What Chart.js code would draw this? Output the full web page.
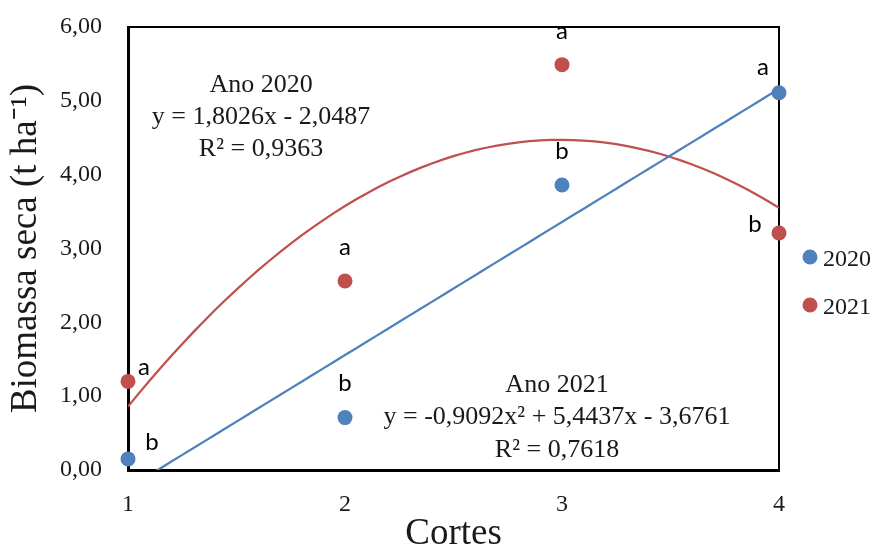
<!DOCTYPE html>
<html lang="pt">
<head>
<meta charset="UTF-8">
<title>Biomassa seca</title>
<script src="https://cdn.jsdelivr.net/npm/chart.js"></script>
<style>
  html, body { margin: 0; padding: 0; background: #fff; }
</style>
</head>
<body>
<canvas id="grafico" width="878" height="546"></canvas>
<script>
// dados
const cortes = [1, 2, 3, 4];
const biomassa2020 = [0.15, 0.71, 3.86, 5.11];
const biomassa2021 = [1.20, 2.56, 5.49, 3.21];
const letras2020 = ['b', 'b', 'b', 'a'];
const letras2021 = ['a', 'a', 'a', 'b'];
// coeficientes das linhas de tendencia (c0 + c1*x + c2*x^2), das equacoes do grafico
const tendencia2020 = [-2.0487, 1.8026];
const tendencia2021 = [-3.6761, 5.4437, -0.9092];
const equacao2020 = ['Ano 2020', 'y = 1,8026x - 2,0487', 'R² = 0,9363'];
const equacao2021 = ['Ano 2021', 'y = -0,9092x² + 5,4437x - 3,6761', 'R² = 0,7618'];
const ticksY = [0, 1, 2, 3, 4, 5, 6];

const AZUL = '#4F81BD';
const VERMELHO = '#C0504D';
const SERIF = "'Liberation Serif', 'Times New Roman', serif";
const SANS = "Lato, 'Liberation Sans', sans-serif";

function pontos(valores) {
    return cortes.map((c, i) => ({ x: c, y: valores[i] }));
}

// curva de tendencia avaliada a partir dos coeficientes
function curva(coef) {
    const out = [];
    for (let k = 0; k <= 60; k++) {
        const x = 1 + k * 0.05;
        let y = 0;
        coef.forEach((c, p) => { y += c * Math.pow(x, p); });
        out.push({ x: x, y: y });
    }
    return out;
}

// letras, equacoes, moldura e legenda
const anotacoes = {
    id: 'anotacoes',
    beforeDatasetsDraw(chart) {
        const { ctx, chartArea: a } = chart;
        ctx.save();
        ctx.strokeStyle = '#000';
        ctx.lineWidth = 2;
        ctx.beginPath();
        ctx.moveTo(a.left, a.top);
        ctx.lineTo(a.right, a.top);
        ctx.lineTo(a.right, a.bottom);
        ctx.stroke();
        ctx.restore();
    },
    afterDatasetsDraw(chart) {
        const { ctx, chartArea: a, scales: { x, y } } = chart;
        ctx.save();

        // letras de significancia
        const desloc2020 = [[24, -9], [0, -27], [0, -26], [-16, -18]];
        const desloc2021 = [[16, -6], [0, -26], [0, -26], [-24, -1]];
        ctx.font = '24px ' + SANS;
        ctx.fillStyle = '#000';
        ctx.textAlign = 'center';
        ctx.textBaseline = 'alphabetic';
        cortes.forEach((c, i) => {
            ctx.fillText(letras2020[i], x.getPixelForValue(c) + desloc2020[i][0], y.getPixelForValue(biomassa2020[i]) + desloc2020[i][1]);
            ctx.fillText(letras2021[i], x.getPixelForValue(c) + desloc2021[i][0], y.getPixelForValue(biomassa2021[i]) + desloc2021[i][1]);
        });

        // equacoes
        ctx.font = '26px ' + SERIF;
        ctx.fillStyle = '#1a1a1a';
        equacao2020.forEach((t, i) => {
            ctx.fillText(t, x.getPixelForValue(1.613), y.getPixelForValue(5.124) + i * 32);
        });
        equacao2021.forEach((t, i) => {
            ctx.fillText(t, x.getPixelForValue(2.977), y.getPixelForValue(1.06) + i * 32.5);
        });

        // legenda
        const itens = [['2020', AZUL], ['2021', VERMELHO]];
        ctx.font = '24px ' + SERIF;
        ctx.textAlign = 'left';
        itens.forEach((it, i) => {
            const cy = a.top + 230 + i * 48;
            ctx.fillStyle = it[1];
            ctx.beginPath();
            ctx.arc(a.right + 31, cy, 7.5, 0, Math.PI * 2);
            ctx.fill();
            ctx.fillStyle = '#1a1a1a';
            ctx.fillText(it[0], a.right + 44, cy + 8.5);
        });
        ctx.restore();
    }
};

const ctx = document.getElementById('grafico').getContext('2d');
new Chart(ctx, {
    type: 'scatter',
    data: {
        datasets: [
            {
                label: '2020',
                data: pontos(biomassa2020),
                backgroundColor: AZUL,
                borderColor: AZUL,
                pointRadius: 7.5,
                pointHoverRadius: 7.5,
                borderWidth: 0,
                clip: false
            },
            {
                label: '2021',
                data: pontos(biomassa2021),
                backgroundColor: VERMELHO,
                borderColor: VERMELHO,
                pointRadius: 7.5,
                pointHoverRadius: 7.5,
                borderWidth: 0,
                clip: false
            },
            {
                label: 'Tendência 2020',
                data: curva(tendencia2020),
                showLine: true,
                borderColor: AZUL,
                borderWidth: 2.25,
                pointRadius: 0,
                fill: false
            },
            {
                label: 'Tendência 2021',
                data: curva(tendencia2021),
                showLine: true,
                borderColor: VERMELHO,
                borderWidth: 2.25,
                pointRadius: 0,
                fill: false,
                tension: 0
            }
        ]
    },
    options: {
        responsive: false,
        animation: false,
        devicePixelRatio: 1,
        layout: { padding: { top: 27, right: 99, left: 0, bottom: 0 } },
        plugins: {
            legend: { display: false },
            tooltip: { enabled: false }
        },
        scales: {
            x: {
                type: 'linear',
                min: 1,
                max: 4,
                grid: { display: false, drawTicks: true, tickLength: 20 },
                border: { display: true, color: '#000', width: 3 },
                ticks: {
                    stepSize: 1,
                    padding: 0,
                    color: '#1a1a1a',
                    font: { family: SERIF, size: 24 }
                },
                title: {
                    display: true,
                    text: 'Cortes',
                    color: '#1a1a1a',
                    font: { family: SERIF, size: 37, lineHeight: '24px' },
                    padding: 0
                },
                afterFit(scale) { scale.height = 76; }
            },
            y: {
                min: 0,
                max: 6,
                grid: { display: false, drawTicks: true, tickLength: 26 },
                border: { display: true, color: '#000', width: 3 },
                afterBuildTicks(scale) { scale.ticks = ticksY.map(v => ({ value: v })); },
                ticks: {
                    padding: 0,
                    color: '#1a1a1a',
                    font: { family: SERIF, size: 24 },
                    callback: v => v.toFixed(2).replace('.', ',')
                },
                title: {
                    display: true,
                    text: 'Biomassa seca (t ha⁻¹)',
                    color: '#1a1a1a',
                    font: { family: SERIF, size: 37, lineHeight: '24px' },
                    padding: { top: 14 }
                },
                afterFit(scale) { scale.width = 128; }
            }
        }
    },
    plugins: [anotacoes]
});
</script>
</body>
</html>
